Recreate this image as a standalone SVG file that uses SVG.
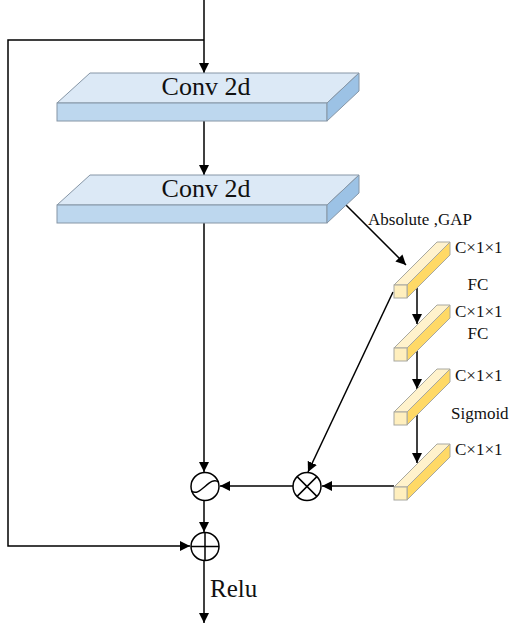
<svg xmlns="http://www.w3.org/2000/svg" width="513" height="627" viewBox="0 0 513 627">
<defs>
<marker id="ah" viewBox="0 0 10 10" refX="10" refY="5" markerWidth="10" markerHeight="10" markerUnits="userSpaceOnUse" orient="auto">
<path d="M0,0 L10,5 L0,10 Z" fill="#000"/>
</marker>
<style>
.ln{stroke:#000;stroke-width:1.5;fill:none}
.arr{marker-end:url(#ah)}
.bt{fill:#dce9f6;stroke:#8696a6;stroke-width:1}
.bf{fill:#bdd7ee;stroke:#8696a6;stroke-width:1}
.bs{fill:#9cc2e5;stroke:#8696a6;stroke-width:1}
.yt{fill:#fff2cc;stroke:#a8a8a0;stroke-width:1}
.ys{fill:#ffd966;stroke:#a8a8a0;stroke-width:1}
.yf{fill:#ffefbe;stroke:#a8a8a0;stroke-width:1}
.big{font-family:"Liberation Serif","Times New Roman",serif;font-size:26px;fill:#111}
.sm{font-family:"Liberation Serif","Times New Roman",serif;font-size:17px;fill:#111}
.op{fill:#fff;stroke:#000;stroke-width:1.5}
</style>
</defs>
<rect width="513" height="627" fill="#fff"/>

<g id="connectors">
<path class="ln arr" d="M204,0 L204,73"/>
<path class="ln arr" d="M204,40 L8,40 L8,546 L190,546"/>
<path class="ln arr" d="M204,121 L204,175"/>
<path class="ln arr" d="M204,223 L204,472"/>
<path class="ln arr" d="M204,501 L204,532"/>
<path class="ln arr" d="M204,561 L204,623"/>
<path class="ln arr" d="M345,204 L406,265"/>
<path class="ln arr" d="M417,287 L417,324"/>
<path class="ln arr" d="M417,351 L417,389"/>
<path class="ln arr" d="M417,415 L417,463"/>
<path class="ln arr" d="M393,292 L308,472"/>
<path class="ln arr" d="M394,486 L322,486"/>
<path class="ln arr" d="M293,486 L220,486"/>
</g>

<g id="conv1">
<polygon class="bt" points="90,73 359,73 327,103 57,103"/>
<rect class="bf" x="57" y="103" width="270" height="18"/>
<polygon class="bs" points="327,103 359,73 359,91 327,121"/>
<text class="big" x="206" y="95" text-anchor="middle">Conv 2d</text>
</g>

<g id="conv2">
<polygon class="bt" points="90,175 359,175 327,205 57,205"/>
<rect class="bf" x="57" y="205" width="270" height="18"/>
<polygon class="bs" points="327,205 359,175 359,193 327,223"/>
<text class="big" x="206" y="197" text-anchor="middle">Conv 2d</text>
</g>

<text class="sm" x="368" y="225">Absolute ,GAP</text>

<g id="bar1">
<polygon class="yt" points="394,285 407,285 450,242 437,242"/>
<polygon class="ys" points="407,285 450,242 450,255 407,298"/>
<rect class="yf" x="394" y="285" width="13" height="13"/>
<text class="sm" x="455" y="253">C×1×1</text>
</g>
<text class="sm" x="478" y="290" text-anchor="middle">FC</text>

<g id="bar2">
<polygon class="yt" points="394,348 407,348 450,305 437,305"/>
<polygon class="ys" points="407,348 450,305 450,318 407,361"/>
<rect class="yf" x="394" y="348" width="13" height="13"/>
<text class="sm" x="455" y="317">C×1×1</text>
</g>
<text class="sm" x="478" y="339" text-anchor="middle">FC</text>

<g id="bar3">
<polygon class="yt" points="394,412 407,412 450,369 437,369"/>
<polygon class="ys" points="407,412 450,369 450,382 407,425"/>
<rect class="yf" x="394" y="412" width="13" height="13"/>
<text class="sm" x="455" y="381">C×1×1</text>
</g>
<text class="sm" x="451" y="419">Sigmoid</text>

<g id="bar4">
<polygon class="yt" points="394,487 407,487 450,444 437,444"/>
<polygon class="ys" points="407,487 450,444 450,457 407,500"/>
<rect class="yf" x="394" y="487" width="13" height="13"/>
<text class="sm" x="455" y="455">C×1×1</text>
</g>

<g id="tilde">
<circle class="op" cx="205" cy="486.5" r="14"/>
<path class="ln" d="M191.5,491 C200,498 210,475 218.5,482"/>
</g>

<g id="mult">
<circle class="op" cx="307" cy="486.5" r="14"/>
<path class="ln" d="M297.1,476.6 L316.9,496.4 M316.9,476.6 L297.1,496.4"/>
</g>

<g id="add">
<circle class="op" cx="205" cy="546.5" r="14"/>
<path class="ln" d="M191,546.5 L219,546.5 M205,532.5 L205,560.5"/>
</g>

<text class="big" x="210" y="597" style="font-size:25px">Relu</text>
</svg>
